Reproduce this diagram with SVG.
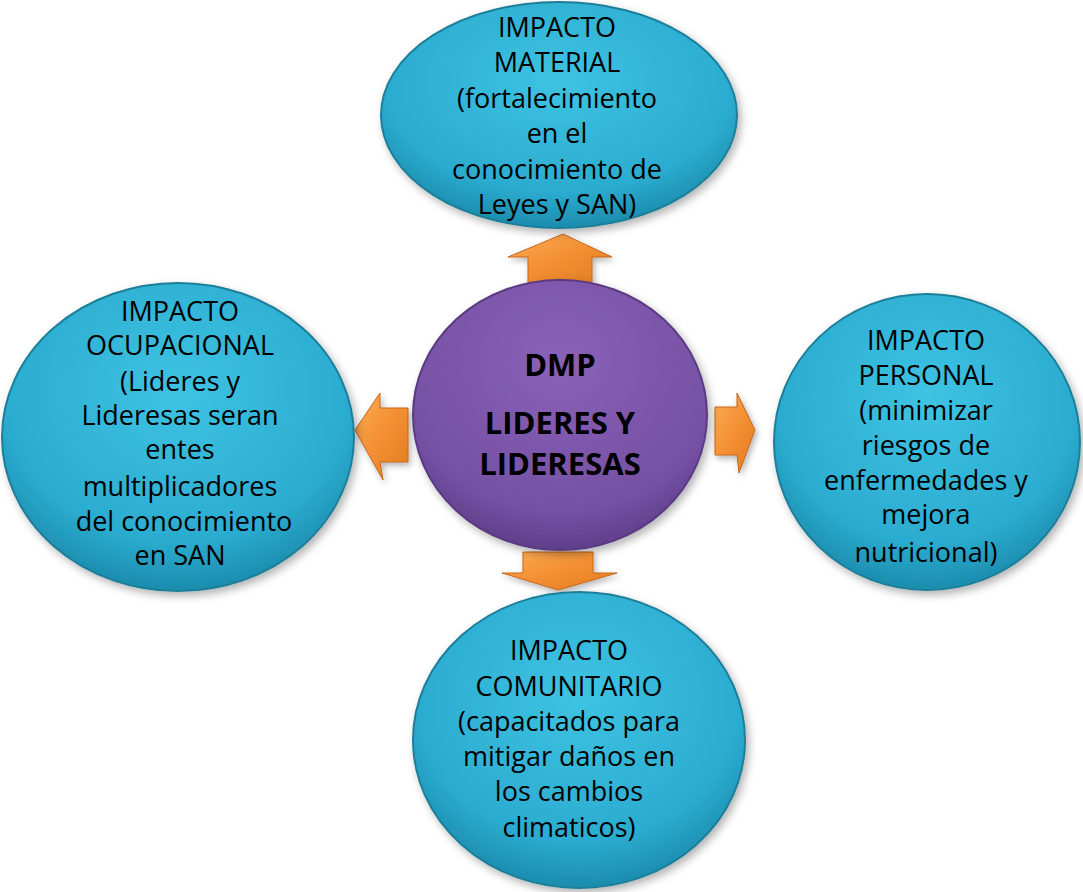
<svg xmlns="http://www.w3.org/2000/svg" width="1083" height="892" viewBox="0 0 1083 892">
<style>
.t{font-family:"Open Sans","Liberation Sans",sans-serif;font-size:27px;fill:#000;text-anchor:middle}
.b{font-family:"Open Sans","Liberation Sans",sans-serif;font-size:31px;font-weight:bold;fill:#000;text-anchor:middle}
.blue{fill:url(#gb);stroke:#1f7f99;stroke-width:2;filter:url(#sh)}
.purp{fill:url(#gp);stroke:#5a3a82;stroke-width:2;filter:url(#sh)}
.arr{fill:url(#go);stroke:#c7661a;stroke-width:1;filter:url(#sh2)}
</style>
<defs>
<radialGradient id="gb" cx="0.5" cy="0.35" r="0.65">
<stop offset="0" stop-color="#3ec3e3"/>
<stop offset="0.75" stop-color="#2bacd0"/>
<stop offset="1" stop-color="#1c8cad"/>
</radialGradient>
<radialGradient id="gp" cx="0.5" cy="0.3" r="0.7">
<stop offset="0" stop-color="#8a62b8"/>
<stop offset="0.8" stop-color="#7550a3"/>
<stop offset="1" stop-color="#5f3f8a"/>
</radialGradient>
<linearGradient id="go" x1="0" y1="0" x2="1" y2="1">
<stop offset="0" stop-color="#fbad55"/>
<stop offset="0.5" stop-color="#f48f33"/>
<stop offset="1" stop-color="#e07d22"/>
</linearGradient>
<filter id="sh" x="-10%" y="-10%" width="125%" height="125%">
<feDropShadow dx="3" dy="4" stdDeviation="4" flood-color="#000" flood-opacity="0.3"/>
</filter>
<filter id="sh2" x="-20%" y="-20%" width="150%" height="150%">
<feDropShadow dx="2" dy="3" stdDeviation="3" flood-color="#000" flood-opacity="0.3"/>
</filter>
</defs>
<g id="connectors">
<polygon class="arr" points="563,234 612,257 592,257 592,283 528,283 528,257 508,257"/>
<polygon class="arr" points="355,430 380,393 380,408 408,408 408,462 380,462 383,480"/>
<polygon class="arr" points="755,430 737,393 737,407 715,407 715,455 737,455 739,473"/>
<polygon class="arr" points="558,590 617,573 593,573 593,552 523,552 523,573 502,573"/>
</g>
<g id="node-material">
<ellipse class="blue" cx="559" cy="115" rx="178" ry="113"/>
<text class="t" x="557" y="37">IMPACTO</text>
<text class="t" x="557" y="72">MATERIAL</text>
<text class="t" x="557" y="108">(fortalecimiento</text>
<text class="t" x="557" y="143">en el</text>
<text class="t" x="557" y="179">conocimiento de</text>
<text class="t" x="557" y="214">Leyes y SAN)</text>
</g>
<g id="node-ocupacional">
<ellipse class="blue" cx="178" cy="437" rx="176" ry="154"/>
<text class="t" x="180" y="321">IMPACTO</text>
<text class="t" x="180" y="355">OCUPACIONAL</text>
<text class="t" x="180" y="391">(Lideres y</text>
<text class="t" x="180" y="425">Lideresas seran</text>
<text class="t" x="180" y="459">entes</text>
<text class="t" x="180" y="496">multiplicadores</text>
<text class="t" x="184" y="531">del conocimiento</text>
<text class="t" x="180" y="565">en SAN</text>
</g>
<g id="node-personal">
<ellipse class="blue" cx="927" cy="442" rx="153" ry="148"/>
<text class="t" x="926" y="350">IMPACTO</text>
<text class="t" x="926" y="385">PERSONAL</text>
<text class="t" x="926" y="420">(minimizar</text>
<text class="t" x="926" y="455">riesgos de</text>
<text class="t" x="926" y="490">enfermedades y</text>
<text class="t" x="926" y="524">mejora</text>
<text class="t" x="926" y="562">nutricional)</text>
</g>
<g id="node-comunitario">
<ellipse class="blue" cx="579" cy="740" rx="166" ry="148"/>
<text class="t" x="569" y="660">IMPACTO</text>
<text class="t" x="569" y="696">COMUNITARIO</text>
<text class="t" x="569" y="731">(capacitados para</text>
<text class="t" x="569" y="766">mitigar daños en</text>
<text class="t" x="569" y="801">los cambios</text>
<text class="t" x="569" y="837">climaticos)</text>
</g>
<g id="node-center">
<ellipse class="purp" cx="560" cy="415" rx="147" ry="135"/>
<text class="b" x="560" y="376">DMP</text>
<text class="b" x="560" y="434">LIDERES Y</text>
<text class="b" x="560" y="475">LIDERESAS</text>
</g>
</svg>
